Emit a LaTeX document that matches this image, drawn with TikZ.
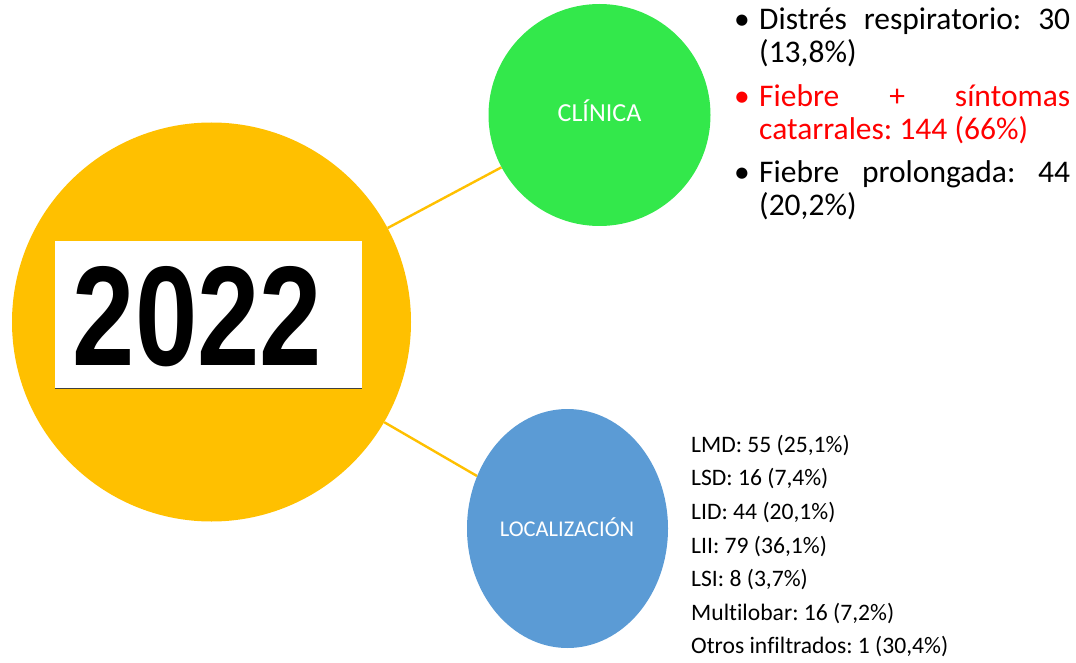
\documentclass[tikz,border=0pt]{standalone}
\usepackage{fontspec}
\setmainfont{Carlito}[Ligatures={NoCommon}]
\newfontfamily\yearfont{Liberation Sans}
\usetikzlibrary{shapes.geometric}
\frenchspacing

\definecolor{yearyellow}{HTML}{FFC000}
\definecolor{clingreen}{HTML}{33E84B}
\definecolor{locblue}{HTML}{5B9BD5}
\definecolor{hired}{HTML}{FF0000}

\tikzset{
  bubble/.style={circle, inner sep=0pt, draw=none},
  link/.style={draw=yearyellow, line width=2.4pt},
  bubtext/.style={anchor=base, text=white, inner sep=0pt},
  item/.style={anchor=base west, inner sep=0pt, text width=311pt, align=justify,
    font=\fontsize{31.5}{33}\selectfont},
  dot/.style={anchor=base, inner sep=0pt, font=\fontsize{31.5}{33}\selectfont}
}

\begin{document}
\begin{tikzpicture}[x=1pt,y=-1pt]
      \useasboundingbox (0,0) rectangle (1076,663);
      % the three bubbles
      \node [bubble, fill=yearyellow, minimum size=399pt] (year) at (211.5,322) {};
      \node [bubble, fill=clingreen, minimum size=222pt] (clinica) at (599.5,115) {};
      \node [ellipse, inner sep=0pt, fill=locblue, minimum width=201pt, minimum height=239pt] (localiz) at (567.5,528.5) {};
      \draw [link] (year) -- (clinica);
      \draw [link] (year) -- (localiz);
      % year label
      \node [fill=white, inner sep=0pt, minimum width=307pt, minimum height=147pt] (yearbox) at (208.5,314.5) {};
      \draw [black!75, line width=1pt] (yearbox.south west) -- (yearbox.south east);
      \node [inner sep=0pt] (yeartext) at (197.5,316.7) {\resizebox{249pt}{99pt}{\yearfont\bfseries 2022}};
      \node [bubtext, font=\fontsize{26}{30}\selectfont] (clintext) at (599.5,122) {CLÍNICA};
      \node [bubtext, font=\fontsize{22.5}{26}\selectfont] (loctext) at (567,536.7) {LOCALIZACIÓN};
      % clinical items
      \node [dot] (dot1) at (742,29.3) {\textbullet};
      \node [item] (item1) at (759,29.3) {Distrés respiratorio: 30\linebreak (13,8\%)};
      \node [dot, text=hired] (dot2) at (742,107) {\textbullet};
      \node [item, text=hired] (item2) at (759,107) {Fiebre + síntomas\linebreak catarrales: 144 (66\%)};
      \node [dot] (dot3) at (742,183) {\textbullet};
      \node [item] (item3) at (759,183) {Fiebre prolongada: 44\linebreak (20,2\%)};
      % location list (base is the last line)
      \node [anchor=base west, inner sep=0pt, align=left, font=\fontsize{23.6}{33.6}\selectfont] (loclist) at (691,653.9) {LMD: 55 (25,1\%)\\
        LSD: 16 (7,4\%)\\
        LID: 44 (20,1\%)\\
        LII: 79 (36,1\%)\\
        LSI: 8 (3,7\%)\\
        Multilobar: 16 (7,2\%)\\
        Otros infiltrados: 1 (30,4\%)};
\end{tikzpicture}
\end{document}
